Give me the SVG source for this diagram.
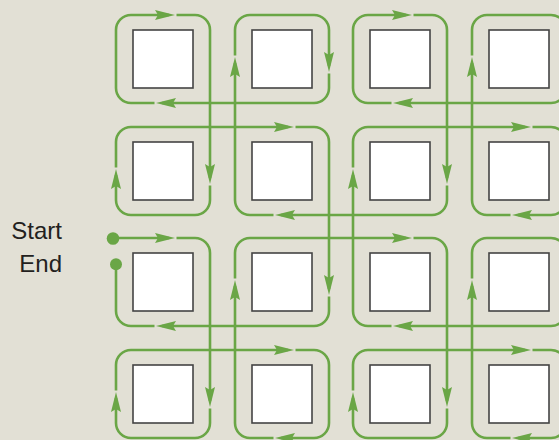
<svg xmlns="http://www.w3.org/2000/svg" width="559" height="440" viewBox="0 0 559 440">
<style>
.sq{fill:#ffffff;stroke:#444444;stroke-width:1.6}
.w{fill:none;stroke:#6aa646;stroke-width:2.6;marker-end:url(#ah)}
.w.last{marker-end:none}
.dot{fill:#6aa646}
.lbl{font-family:"Liberation Sans",Arial,Helvetica,sans-serif;font-size:24px;fill:#231f20;text-anchor:end}
</style>
<defs>
<marker id="ah" viewBox="-14 -5 20 10" refX="0" refY="0" markerWidth="20" markerHeight="10" markerUnits="userSpaceOnUse" orient="auto">
<path d="M-14,-5 L6,0 L-14,5 L-11,0 z" fill="#6aa646"/>
</marker>
</defs>
<rect x="0" y="0" width="559" height="440" fill="#e2e0d5"/>
<g id="squares">
<g id="sq-r1c1"><rect class="sq" x="133" y="30" width="60" height="58"/></g>
<g id="sq-r1c2"><rect class="sq" x="252" y="30" width="60" height="58"/></g>
<g id="sq-r1c3"><rect class="sq" x="370" y="30" width="60" height="58"/></g>
<g id="sq-r1c4"><rect class="sq" x="489" y="30" width="60" height="58"/></g>
<g id="sq-r2c1"><rect class="sq" x="133" y="142" width="60" height="58"/></g>
<g id="sq-r2c2"><rect class="sq" x="252" y="142" width="60" height="58"/></g>
<g id="sq-r2c3"><rect class="sq" x="370" y="142" width="60" height="58"/></g>
<g id="sq-r2c4"><rect class="sq" x="489" y="142" width="60" height="58"/></g>
<g id="sq-r3c1"><rect class="sq" x="133" y="253" width="60" height="58"/></g>
<g id="sq-r3c2"><rect class="sq" x="252" y="253" width="60" height="58"/></g>
<g id="sq-r3c3"><rect class="sq" x="370" y="253" width="60" height="58"/></g>
<g id="sq-r3c4"><rect class="sq" x="489" y="253" width="60" height="58"/></g>
<g id="sq-r4c1"><rect class="sq" x="133" y="365" width="60" height="58"/></g>
<g id="sq-r4c2"><rect class="sq" x="252" y="365" width="60" height="58"/></g>
<g id="sq-r4c3"><rect class="sq" x="370" y="365" width="60" height="58"/></g>
<g id="sq-r4c4"><rect class="sq" x="489" y="365" width="60" height="58"/></g>
</g>
<g id="connectors">
<path class="w" d="M113,238 L169,238"/>
<path class="w" d="M176.5,238 L195,238 A15,15 0 0 1 210,253 L210,401"/>
<path class="w" d="M210,408.5 L210,423 A15,15 0 0 1 195,438 L131,438 A15,15 0 0 1 116,423 L116,398"/>
<path class="w" d="M116,390.5 L116,365 A15,15 0 0 1 131,350 L288,350"/>
<path class="w" d="M295.5,350 L314,350 A15,15 0 0 1 329,365 L329,423 A15,15 0 0 1 314,438 L281,438"/>
<path class="w" d="M273.5,438 L250,438 A15,15 0 0 1 235,423 L235,286"/>
<path class="w" d="M235,278.5 L235,253 A15,15 0 0 1 250,238 L406,238"/>
<path class="w" d="M413.5,238 L432,238 A15,15 0 0 1 447,253 L447,401"/>
<path class="w" d="M447,408.5 L447,423 A15,15 0 0 1 432,438 L368,438 A15,15 0 0 1 353,423 L353,398"/>
<path class="w" d="M353,390.5 L353,365 A15,15 0 0 1 368,350 L525,350"/>
<path class="w" d="M532.5,350 L551,350 A15,15 0 0 1 566,365 L566,423 A15,15 0 0 1 551,438 L518,438"/>
<path class="w" d="M510.5,438 L487,438 A15,15 0 0 1 472,423 L472,286"/>
<path class="w" d="M472,278.5 L472,253 A15,15 0 0 1 487,238 L551,238 A15,15 0 0 1 566,253 L566,311 A15,15 0 0 1 551,326 L399,326"/>
<path class="w" d="M391.5,326 L368,326 A15,15 0 0 1 353,311 L353,175"/>
<path class="w" d="M353,167.5 L353,142 A15,15 0 0 1 368,127 L525,127"/>
<path class="w" d="M532.5,127 L551,127 A15,15 0 0 1 566,142 L566,200 A15,15 0 0 1 551,215 L518,215"/>
<path class="w" d="M510.5,215 L487,215 A15,15 0 0 1 472,200 L472,63"/>
<path class="w" d="M472,55.5 L472,30 A15,15 0 0 1 487,15 L551,15 A15,15 0 0 1 566,30 L566,88 A15,15 0 0 1 551,103 L399,103"/>
<path class="w" d="M391.5,103 L368,103 A15,15 0 0 1 353,88 L353,30 A15,15 0 0 1 368,15 L406,15"/>
<path class="w" d="M413.5,15 L432,15 A15,15 0 0 1 447,30 L447,178"/>
<path class="w" d="M447,185.5 L447,200 A15,15 0 0 1 432,215 L281,215"/>
<path class="w" d="M273.5,215 L250,215 A15,15 0 0 1 235,200 L235,63"/>
<path class="w" d="M235,55.5 L235,30 A15,15 0 0 1 250,15 L314,15 A15,15 0 0 1 329,30 L329,66"/>
<path class="w" d="M329,73.5 L329,88 A15,15 0 0 1 314,103 L162,103"/>
<path class="w" d="M154.5,103 L131,103 A15,15 0 0 1 116,88 L116,30 A15,15 0 0 1 131,15 L169,15"/>
<path class="w" d="M176.5,15 L195,15 A15,15 0 0 1 210,30 L210,178"/>
<path class="w" d="M210,185.5 L210,200 A15,15 0 0 1 195,215 L131,215 A15,15 0 0 1 116,200 L116,175"/>
<path class="w" d="M116,167.5 L116,142 A15,15 0 0 1 131,127 L288,127"/>
<path class="w" d="M295.5,127 L314,127 A15,15 0 0 1 329,142 L329,289"/>
<path class="w" d="M329,296.5 L329,311 A15,15 0 0 1 314,326 L162,326"/>
<path class="w last" d="M154.5,326 L131,326 A15,15 0 0 1 116,311 L116,264"/>
</g>
<g id="start">
<circle class="dot" cx="113" cy="238.5" r="6.3"/>
<text class="lbl" x="62" y="239">Start</text>
</g>
<g id="end">
<circle class="dot" cx="116" cy="264.3" r="6"/>
<text class="lbl" x="62" y="272">End</text>
</g>
</svg>
